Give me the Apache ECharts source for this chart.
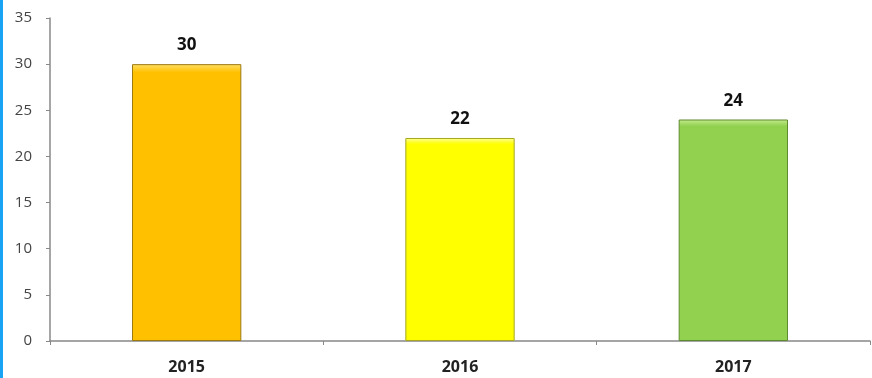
<!DOCTYPE html>
<html><head><meta charset="utf-8">
<script src="https://cdn.jsdelivr.net/npm/echarts@6/dist/echarts.min.js"></script>
<style>html,body{margin:0;padding:0;background:#fff}#c{width:872px;height:378px}</style>
</head><body><div id="c"></div>
<script>
const categories = ['2015', '2016', '2017'];
const values = [30, 22, 24];
const barColors = ['#FFC000', '#FFFF00', '#92D050'];
const barBorders = ['#9c7a10', '#a6a620', '#5f8a30'];
const barTops = ['#ffe066', '#ffff99', '#c4ec8e'];

const chart = echarts.init(document.getElementById('c'));
chart.setOption({
  animation: false,
  backgroundColor: '#fff',
  grid: { left: 50, right: 2, top: 18, bottom: 37 },
  graphic: [{ type: 'rect', left: 0, top: 0, shape: { width: 3, height: 378 }, style: { fill: '#1aa3f5' } }],
  xAxis: {
    type: 'category', data: categories,
    axisLine: { lineStyle: { color: '#888', width: 1.5 } },
    axisTick: { show: true, length: 4, lineStyle: { color: '#888' } },
    axisLabel: { margin: 18, color: '#222', fontWeight: 'bold', fontSize: 16, fontFamily: 'Open Sans' }
  },
  yAxis: {
    type: 'value', min: 0, max: 35, interval: 5,
    axisLine: { show: true, lineStyle: { color: '#888', width: 1.5 } },
    axisTick: { show: true, length: 4, lineStyle: { color: '#888' } },
    splitLine: { show: false },
    axisLabel: { margin: 18, color: '#444', fontSize: 15, fontFamily: 'Open Sans' }
  },
  series: [{
    type: 'bar', barWidth: '40%',
    data: values.map((v, i) => ({
      value: v,
      itemStyle: {
        color: new echarts.graphic.LinearGradient(0, 0, 0, 1, [
          { offset: 0, color: barTops[i] },
          { offset: 0.03, color: barColors[i] },
          { offset: 1, color: barColors[i] }
        ]),
        borderColor: barBorders[i], borderWidth: 1
      }
    })),
    label: { show: true, position: 'top', distance: 10, color: '#111', fontWeight: 'bold', fontSize: 17, fontFamily: 'Open Sans' }
  }]
});
</script></body></html>
